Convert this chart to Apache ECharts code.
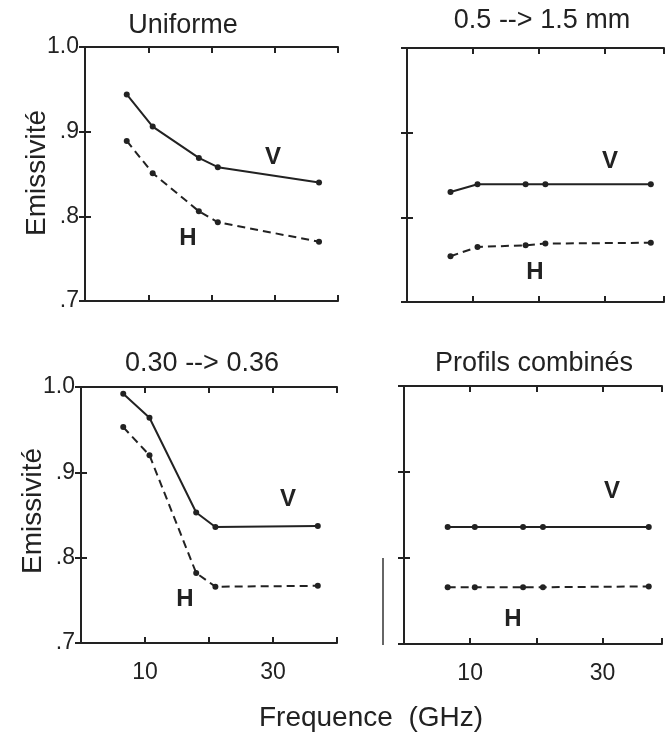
<!DOCTYPE html>
<html>
<head>
<meta charset="utf-8">
<script src="https://cdn.jsdelivr.net/npm/echarts@6/dist/echarts.min.js"></script>
<style>html,body{margin:0;padding:0;background:#fff}#c{width:665px;height:739px}</style>
</head>
<body>
<div id="c"></div>
<script>
// Frequencies (GHz)
var freq = [6.6, 10.7, 18, 21, 37];
// Panel titles
var titles = ['Uniforme', '0.5 --> 1.5 mm', '0.30 --> 0.36', 'Profils combinés'];
// Emissivity, vertical polarization (V) and horizontal (H)
var uniformV = [0.944, 0.906, 0.869, 0.858, 0.840];
var uniformH = [0.889, 0.851, 0.806, 0.793, 0.770];
var grainV = [0.830, 0.839, 0.839, 0.839, 0.839];
var grainH = [0.754, 0.765, 0.767, 0.769, 0.770];
var densV = [0.992, 0.964, 0.853, 0.836, 0.837];
var densH = [0.953, 0.920, 0.782, 0.766, 0.767];
var combV = [0.836, 0.836, 0.836, 0.836, 0.836];
var combH = [0.766, 0.766, 0.766, 0.766, 0.767];
// Axis tick labels
var xTickLabels = [10, 30];
var yTickLabels = {'1': '1.0', '0.9': '.9', '0.8': '.8', '0.7': '.7'};

var FONT = '"Liberation Sans", Arial, sans-serif';
var INK = '#222';

var grids = [
  {left: 85, top: 47, width: 253, height: 254},
  {left: 407, top: 48, width: 257, height: 254},
  {left: 81, top: 387, width: 256, height: 256},
  {left: 404, top: 386, width: 258, height: 258}
];
var xMax = [40, 39, 40, 39];
var panels = [[uniformV, uniformH], [grainV, grainH], [densV, densH], [combV, combH]];

function pairs(ys) { return freq.map(function (f, i) { return [f, ys[i]]; }); }

var xAxes = [], yAxes = [], series = [];
grids.forEach(function (g, gi) {
  var bottomRow = gi >= 2, leftCol = gi % 2 === 0;
  var common = {
    type: 'value', gridIndex: gi, min: 0, max: xMax[gi], interval: 10,
    axisLine: {show: true, lineStyle: {color: INK, width: 2}},
    axisTick: {show: true, inside: true, length: 6, lineStyle: {color: INK, width: 2}},
    splitLine: {show: false}
  };
  xAxes.push(Object.assign({}, common, {
    position: 'bottom',
    axisLabel: {show: bottomRow, margin: 18, color: INK, fontSize: 23, fontFamily: FONT,
      formatter: function (v) { return xTickLabels.indexOf(v) >= 0 ? String(v) : ''; }}
  }));
  xAxes.push(Object.assign({}, common, {position: 'top', axisLabel: {show: false}}));
  var ycommon = {
    type: 'value', gridIndex: gi, min: 0.7, max: 1.0, interval: 0.1,
    axisLine: {show: true, lineStyle: {color: INK, width: 2}},
    axisTick: {show: true, inside: true, length: 6, lineStyle: {color: INK, width: 2}},
    splitLine: {show: false}
  };
  yAxes.push(Object.assign({}, ycommon, {
    position: 'left',
    axisLabel: {show: leftCol, margin: 6, color: INK, fontSize: 23, fontFamily: FONT,
      formatter: function (v) { var k = String(Math.round(v * 10) / 10); return yTickLabels[k] || ''; }}
  }));
  yAxes.push(Object.assign({}, ycommon, {position: 'right', axisLabel: {show: false}}));

  var xi = gi * 2, yi = gi * 2;
  series.push({
    type: 'line', xAxisIndex: xi, yAxisIndex: yi, data: pairs(panels[gi][0]),
    symbol: 'circle', symbolSize: 6, itemStyle: {color: INK},
    lineStyle: {color: INK, width: 2, type: 'solid'}, animation: false, silent: true
  });
  series.push({
    type: 'line', xAxisIndex: xi, yAxisIndex: yi, data: pairs(panels[gi][1]),
    symbol: 'circle', symbolSize: 6, itemStyle: {color: INK},
    lineStyle: {color: INK, width: 2, type: [8, 5]}, animation: false, silent: true
  });
});

function txt(x, y, s, size, weight, rot) {
  return {type: 'text', x: x, y: y, rotation: rot || 0,
    style: {text: s, fill: INK, font: (weight || 'normal') + ' ' + size + 'px ' + FONT,
      textAlign: 'center', textVerticalAlign: 'middle'}};
}

var graphics = [
  txt(183, 26, titles[0], 27),
  txt(542, 21, titles[1], 27),
  txt(202, 364, titles[2], 27),
  txt(534, 364, titles[3], 27),
  txt(37, 173, 'Emissivité', 28, 'normal', Math.PI / 2),
  txt(33, 511, 'Emissivité', 28, 'normal', Math.PI / 2),
  txt(371, 718, 'Frequence  (GHz)', 28),
  txt(273, 157, 'V', 24, 'bold'),
  txt(188, 238, 'H', 24, 'bold'),
  txt(610, 161, 'V', 24, 'bold'),
  txt(535, 272, 'H', 24, 'bold'),
  txt(288, 499, 'V', 24, 'bold'),
  txt(185, 599, 'H', 24, 'bold'),
  txt(612, 491, 'V', 24, 'bold'),
  txt(513, 619, 'H', 24, 'bold'),
  {type: 'line', shape: {x1: 383, y1: 558, x2: 383, y2: 645}, style: {stroke: '#333', lineWidth: 1.5}}
];

var chart = echarts.init(document.getElementById('c'), null, {renderer: 'canvas'});
chart.setOption({
  backgroundColor: '#fff',
  animation: false,
  grid: grids,
  xAxis: xAxes,
  yAxis: yAxes,
  series: series,
  graphic: graphics
});
</script>
</body>
</html>
